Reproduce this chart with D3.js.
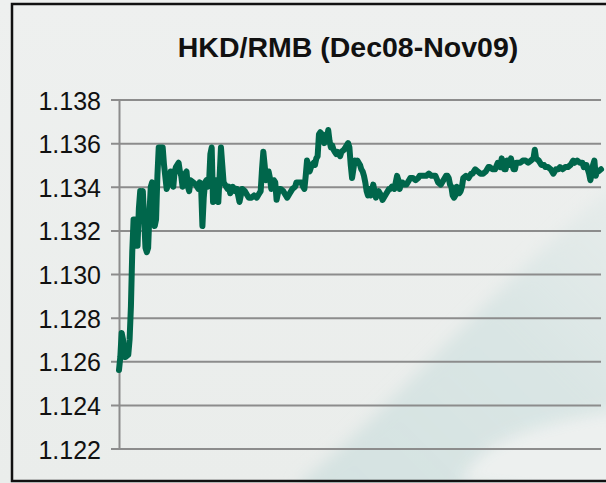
<!DOCTYPE html>
<meta charset="utf-8">
<style>
body { margin: 0; background: #eceeed; }
svg { display: block; font-family: "Liberation Sans", Arial, sans-serif; }
.grid line { stroke: #8c8c8c; stroke-width: 2; }
.grid .domain { stroke: #8c8c8c; stroke-width: 2; }
.grid text { fill: #111; font-size: 25px; }
</style>
<body>
<script src="https://d3js.org/d3.v7.min.js"></script>
<script>

// calendar days since 1 Dec 2008
var day = [0,1,2,3,4,5,7,8,9,10,11,12,13,14,15,16,17,18,19,20,21,22,23,24,25,26,27,28,29,30,31,33,34,36,37,39,40,41,42,43,45,46,47,48,49,50,51,52,53,54,56,58,60,61,62,63,64,65,66,67,68,69,70,71,72,73,74,75,76,77,78,79,80,82,83,84,85,86,88,89,90,91,92,93,95,97,98,100,102,104,105,106,107,108,109,110,111,112,113,114,115,116,117,118,119,120,121,122,124,126,127,128,129,131,133,134,136,138,139,140,141,142,143,144,145,147,148,149,150,151,152,153,154,155,156,157,158,159,160,161,162,163,164,165,167,168,170,172,173,174,175,176,177,178,179,180,182,183,184,185,186,187,188,189,190,191,192,193,194,195,196,197,198,199,200,202,204,205,206,208,209,210,211,212,213,214,215,217,219,220,222,224,226,227,229,232,234,236,238,239,241,243,245,247,248,249,250,251,252,253,254,255,256,257,258,259,260,262,264,266,267,269,271,273,275,277,279,280,282,284,286,288,289,290,291,292,293,295,296,297,298,299,300,302,303,305,307,309,311,313,314,315,317,319,321,322,324,326,328,330,332,333,335,337,339,341,343,344,346,348,350,351,352,353,355,356,357,358,359,360,361,362,364];

var rate = [1.1256,1.1262,1.1273,1.1270,1.1262,1.1262,1.1263,1.1270,1.1285,1.1310,1.1325,1.1325,1.1313,1.1313,1.1330,1.1338,1.1336,1.1338,1.1325,1.1312,1.1310,1.1312,1.1328,1.1340,1.1342,1.1335,1.1322,1.1325,1.1345,1.1358,1.1358,1.1358,1.1350,1.1339,1.1341,1.1347,1.1343,1.1340,1.1347,1.1349,1.1351,1.1347,1.1345,1.1340,1.1341,1.1346,1.1347,1.1340,1.1338,1.1343,1.1342,1.1341,1.1339,1.1342,1.1340,1.1322,1.1335,1.1342,1.1343,1.1340,1.1342,1.1355,1.1358,1.1333,1.1340,1.1343,1.1342,1.1333,1.1345,1.1358,1.1350,1.1342,1.1341,1.1339,1.1340,1.1337,1.1338,1.1340,1.1338,1.1339,1.1336,1.1333,1.1336,1.1339,1.1338,1.1336,1.1335,1.1335,1.1336,1.1335,1.1336,1.1337,1.1338,1.1348,1.1356,1.1350,1.1343,1.1345,1.1347,1.1344,1.1339,1.1341,1.1343,1.1342,1.1334,1.1337,1.1339,1.1339,1.1338,1.1336,1.1335,1.1336,1.1337,1.1339,1.1340,1.1342,1.1342,1.1342,1.1340,1.1339,1.1345,1.1352,1.1350,1.1347,1.1349,1.1351,1.1350,1.1353,1.1354,1.1364,1.1365,1.1362,1.1364,1.1360,1.1362,1.1361,1.1366,1.1361,1.1358,1.1359,1.1357,1.1356,1.1355,1.1356,1.1354,1.1356,1.1357,1.1359,1.1360,1.1358,1.1350,1.1344,1.1348,1.1352,1.1351,1.1352,1.1350,1.1348,1.1347,1.1345,1.1342,1.1338,1.1336,1.1339,1.1336,1.1338,1.1341,1.1338,1.1335,1.1337,1.1338,1.1337,1.1336,1.1334,1.1335,1.1337,1.1339,1.1339,1.1340,1.1339,1.1342,1.1345,1.1343,1.1339,1.1342,1.1342,1.1341,1.1341,1.1343,1.1344,1.1344,1.1343,1.1344,1.1345,1.1345,1.1345,1.1346,1.1345,1.1345,1.1345,1.1342,1.1341,1.1343,1.1345,1.1345,1.1344,1.1341,1.1340,1.1336,1.1335,1.1336,1.1340,1.1339,1.1337,1.1338,1.1340,1.1344,1.1345,1.1344,1.1346,1.1346,1.1348,1.1347,1.1346,1.1346,1.1347,1.1349,1.1349,1.1348,1.1348,1.1351,1.1349,1.1353,1.1350,1.1348,1.1348,1.1352,1.1350,1.1353,1.1350,1.1348,1.1348,1.1351,1.1351,1.1351,1.1352,1.1352,1.1351,1.1352,1.1353,1.1357,1.1353,1.1352,1.1350,1.1350,1.1349,1.1349,1.1348,1.1346,1.1348,1.1348,1.1349,1.1348,1.1349,1.1349,1.1350,1.1352,1.1351,1.1352,1.1351,1.1351,1.1349,1.1350,1.1350,1.1346,1.1343,1.1346,1.1350,1.1352,1.1345,1.1347,1.1347,1.1348];

var yTicks = [1.122,1.124,1.126,1.128,1.130,1.132,1.134,1.136,1.138];
var title = "HKD/RMB (Dec08-Nov09)";

var W = 606, H = 483;
var margin = {top: 99.5, right: 5, bottom: 34.5, left: 119};
var width = W - margin.left - margin.right,
    height = H - margin.top - margin.bottom;

var svg = d3.select("body").append("svg")
    .attr("width", W)
    .attr("height", H);

// background with a faint swoosh
var defs = svg.append("defs");
var bg = defs.append("linearGradient").attr("id", "bg")
    .attr("x1", 0).attr("y1", 0).attr("x2", 0).attr("y2", 1);
bg.append("stop").attr("offset", 0).attr("stop-color", "#eef0ef");
bg.append("stop").attr("offset", 1).attr("stop-color", "#eaedeb");
var sw = defs.append("linearGradient").attr("id", "sw")
    .attr("x1", 0).attr("y1", 1).attr("x2", 1).attr("y2", 0);
sw.append("stop").attr("offset", 0).attr("stop-color", "#d2e1e0").attr("stop-opacity", 0.9);
sw.append("stop").attr("offset", 0.6).attr("stop-color", "#d6e4e3").attr("stop-opacity", 0.85);
sw.append("stop").attr("offset", 1).attr("stop-color", "#dde8e7").attr("stop-opacity", 0.4);
var blur = defs.append("filter").attr("id", "blur")
    .attr("x", "-20%").attr("y", "-20%").attr("width", "140%").attr("height", "140%");
blur.append("feGaussianBlur").attr("stdDeviation", 8);

svg.append("rect").attr("width", W).attr("height", H).attr("fill", "url(#bg)");
svg.append("path")
    .attr("d", "M300,483 C390,410 480,300 620,180 L620,500 L300,500 Z")
    .attr("fill", "url(#sw)")
    .attr("filter", "url(#blur)");
svg.append("path")
    .attr("d", "M460,483 C480,440 530,425 620,410 L620,500 Z")
    .attr("fill", "#f0f2f1").attr("opacity", 0.9)
    .attr("filter", "url(#blur)");

svg.append("rect")
    .attr("x", 12).attr("y", 4)
    .attr("width", W).attr("height", 477)
    .attr("fill", "none")
    .attr("stroke", "#111")
    .attr("stroke-width", 2.5);

var g = svg.append("g")
    .attr("transform", "translate(" + margin.left + "," + margin.top + ")");

var x = d3.scaleLinear().domain([0, 364]).range([0, width]);
var y = d3.scaleLinear().domain([1.122, 1.138]).range([height, 0]);

// gridlines + labels
var yAxis = d3.axisLeft(y)
    .tickValues(yTicks)
    .tickFormat(d3.format(".3f"))
    .tickSize(-width)
    .tickPadding(18);

var ga = g.append("g").attr("class", "grid").call(yAxis);
ga.selectAll(".tick line").attr("x1", -8);
ga.select(".domain").attr("d", "M0.5," + height + "V0");
ga.selectAll(".tick text").attr("dy", "0.38em");

svg.append("text")
    .attr("x", 348)
    .attr("y", 56.5)
    .attr("text-anchor", "middle")
    .style("font-size", "28.5px")
    .style("font-weight", "bold")
    .attr("fill", "#111")
    .text(title);

var pts = day.map(function(d, i) { return [d, rate[i]]; });

var line = d3.line()
    .x(function(d) { return x(d[0]); })
    .y(function(d) { return y(d[1]); });

g.append("path")
    .datum(pts)
    .attr("fill", "none")
    .attr("stroke", "#00664b")
    .attr("stroke-width", 6)
    .attr("stroke-linejoin", "round")
    .attr("stroke-linecap", "round")
    .attr("d", line);

</script>
</body>
